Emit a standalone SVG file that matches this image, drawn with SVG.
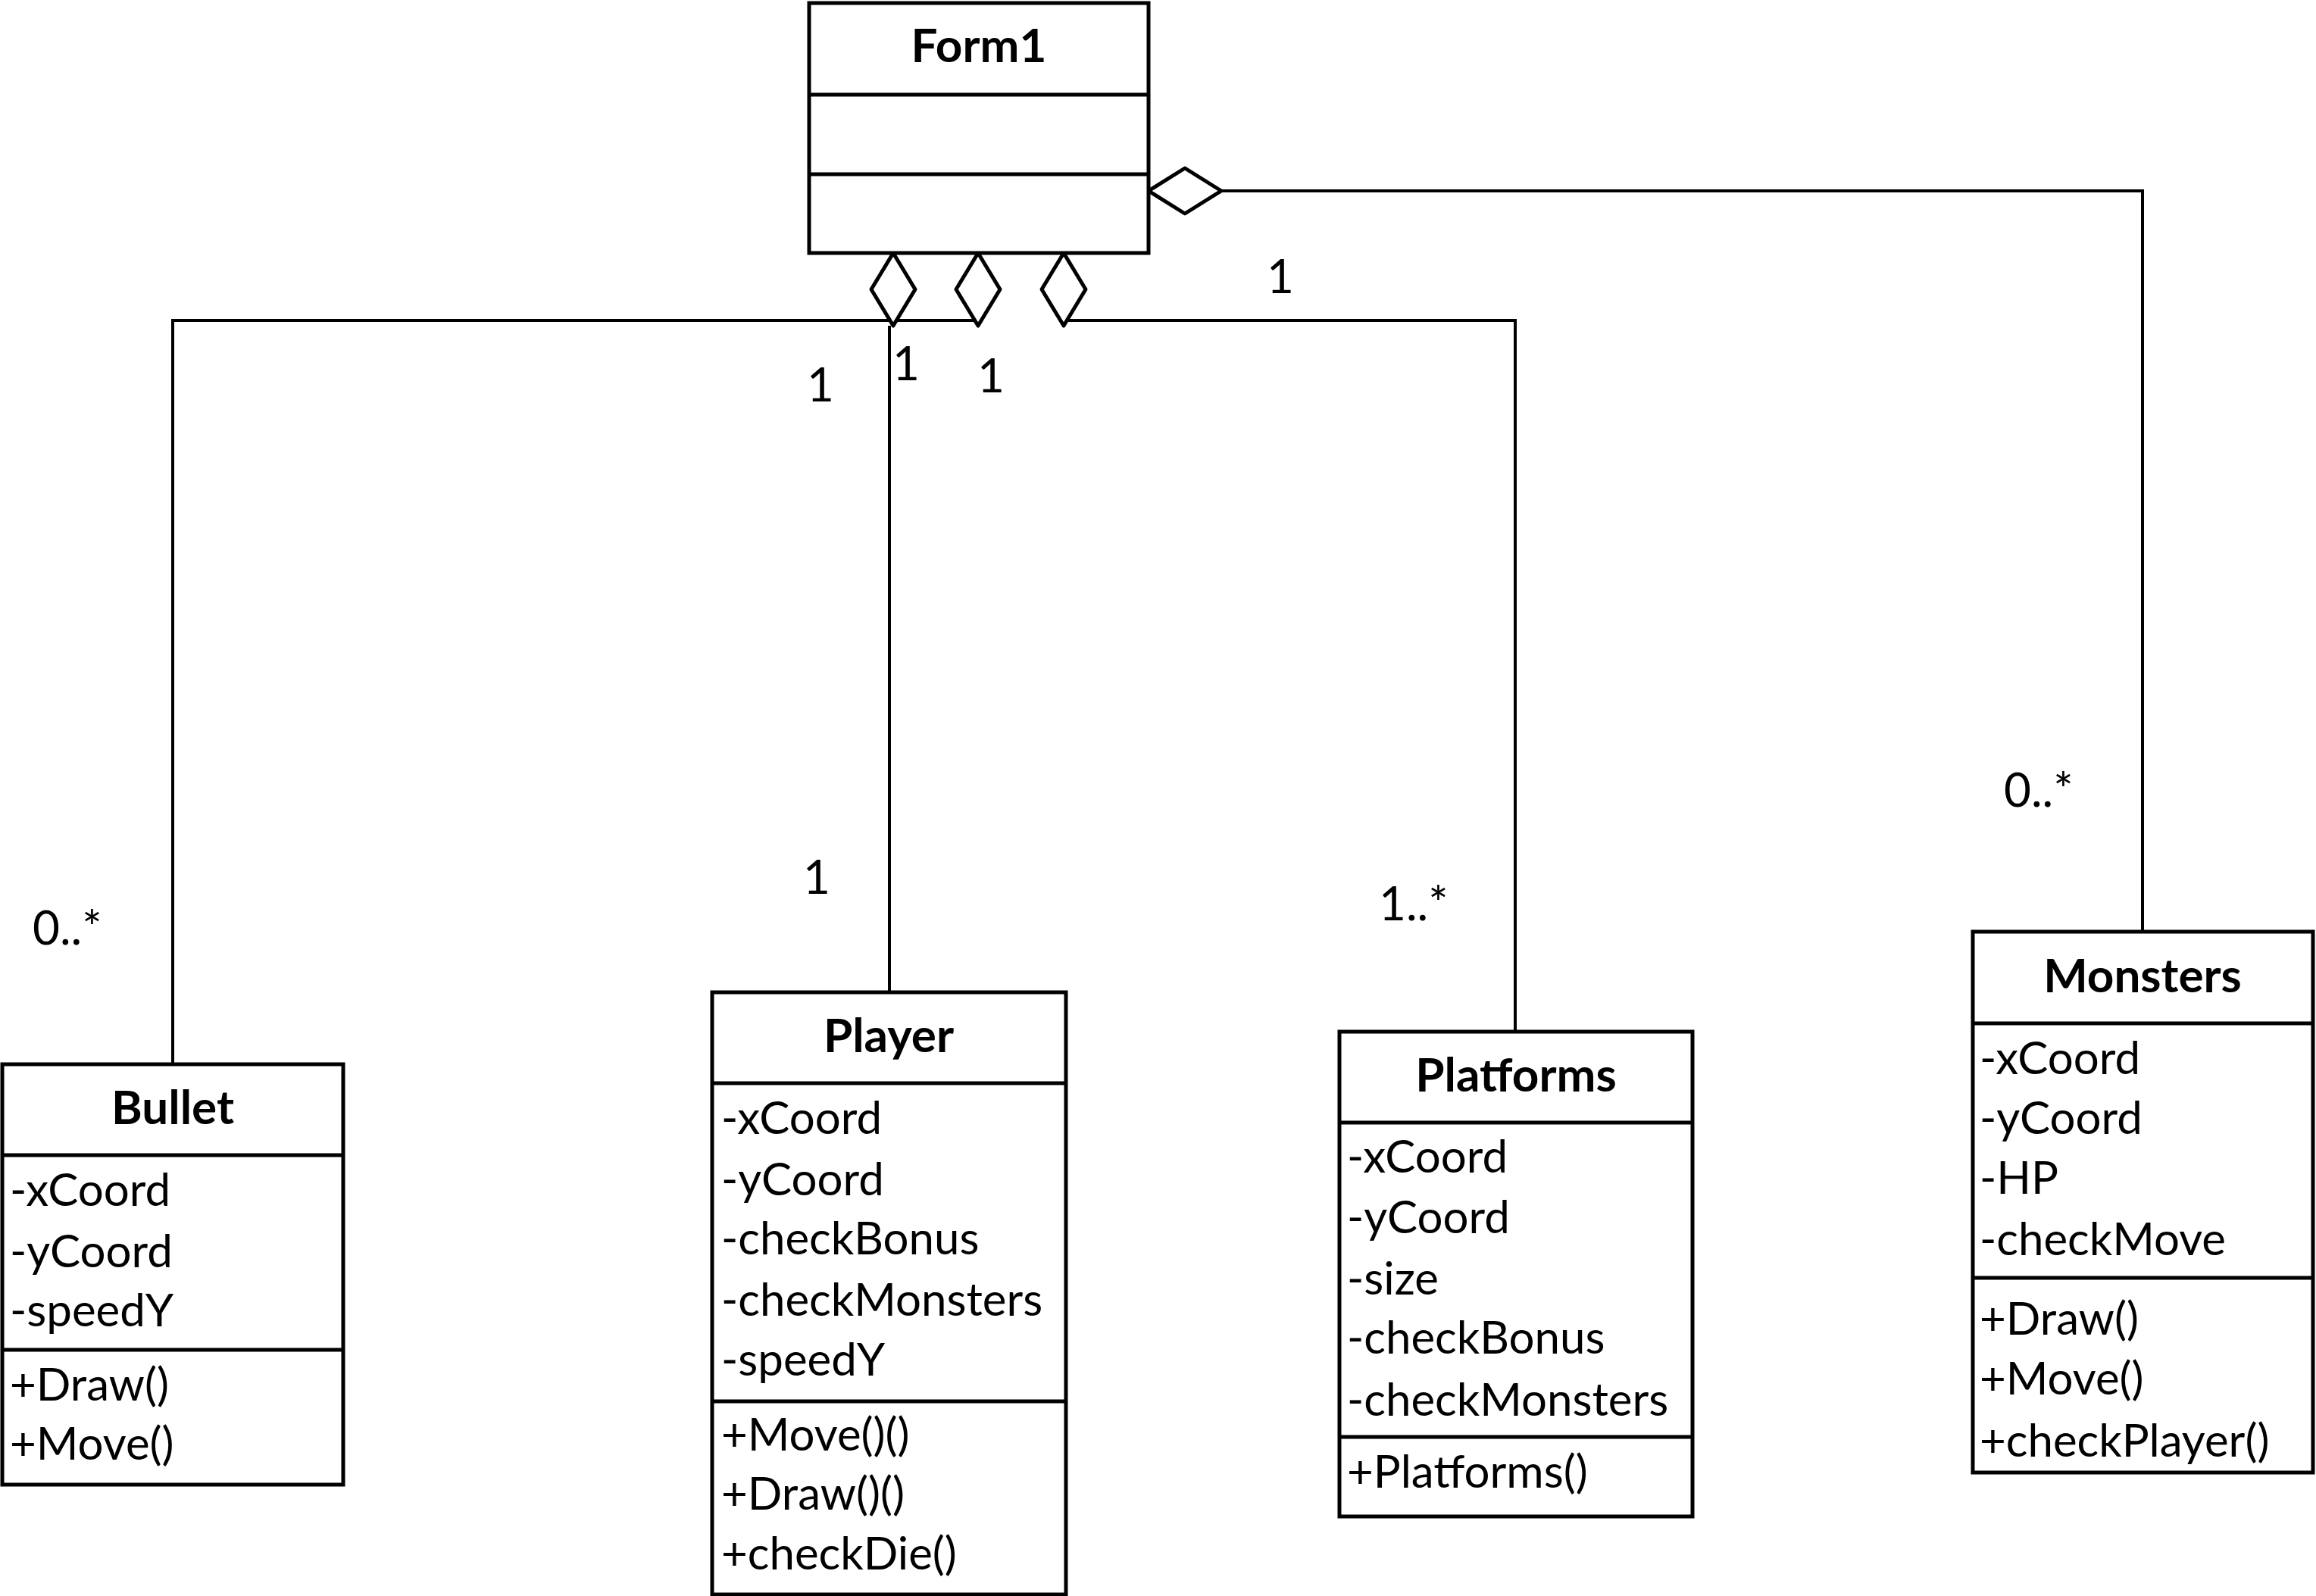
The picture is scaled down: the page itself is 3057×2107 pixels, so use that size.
<svg xmlns="http://www.w3.org/2000/svg" width="3057" height="2107" viewBox="0 0 3057 2107">
  <style>
    .box { fill: #fff; stroke: #000; stroke-width: 5; }
    .div { stroke: #000; stroke-width: 5; }
    .link { fill: none; stroke: #000; stroke-width: 4; }
    .agg { fill: #fff; stroke: #000; stroke-width: 5; stroke-linejoin: round; }
    .title { font-family: Lato, "Liberation Sans", sans-serif; font-weight: bold; font-size: 62px; text-anchor: middle; fill: #000; }
    .member { font-family: Lato, "Liberation Sans", sans-serif; font-size: 60px; fill: #000; }
    .mult { font-family: Lato, "Liberation Sans", sans-serif; font-size: 62px; fill: #000; }
  </style>
  <rect width="3057" height="2107" fill="#fff"/>

  <!-- connectors and aggregation diamonds -->
  <g id="connectors">
    <path class="link" d="M228,1405 V423 H1291"/>
    <path class="link" d="M1174,1310 V430"/>
    <path class="link" d="M2000,1362 V423 H1404"/>
    <path class="link" d="M2828,1230 V252 H1612"/>
    <polygon class="agg" points="1179,334 1208,382 1179,430 1150,382"/>
    <polygon class="agg" points="1291,334 1320,382 1291,430 1262,382"/>
    <polygon class="agg" points="1404,334 1433,382 1404,430 1375,382"/>
    <polygon class="agg" points="1516,252 1564,222 1612,252 1564,282"/>
    <text class="mult" x="1065" y="530">1</text>
    <text class="mult" x="1178" y="502">1</text>
    <text class="mult" x="1290" y="518">1</text>
    <text class="mult" x="1672" y="387">1</text>
    <text class="mult" x="43" y="1247">0..*</text>
    <text class="mult" x="1060" y="1180">1</text>
    <text class="mult" x="1820" y="1215">1..*</text>
    <text class="mult" x="2645" y="1065">0..*</text>
  </g>

  <g id="form1">
    <rect class="box" x="1068" y="4" width="448" height="330"/>
    <line class="div" x1="1068" y1="125" x2="1516" y2="125"/>
    <line class="div" x1="1068" y1="230" x2="1516" y2="230"/>
    <text class="title" x="1292" y="82">Form1</text>
  </g>

  <g id="bullet">
    <rect class="box" x="3" y="1405" width="450" height="555"/>
    <line class="div" x1="3" y1="1525" x2="453" y2="1525"/>
    <line class="div" x1="3" y1="1782" x2="453" y2="1782"/>
    <text class="title" x="228" y="1484">Bullet</text>
    <text class="member" x="13" y="1592">-xCoord</text>
    <text class="member" x="13" y="1673">-yCoord</text>
    <text class="member" x="13" y="1751">-speedY</text>
    <text class="member" x="13" y="1849">+Draw()</text>
    <text class="member" x="13" y="1927">+Move()</text>
  </g>

  <g id="player">
    <rect class="box" x="940" y="1310" width="467" height="795"/>
    <line class="div" x1="940" y1="1430" x2="1407" y2="1430"/>
    <line class="div" x1="940" y1="1850" x2="1407" y2="1850"/>
    <text class="title" x="1173" y="1389">Player</text>
    <text class="member" x="952" y="1497">-xCoord</text>
    <text class="member" x="952" y="1578">-yCoord</text>
    <text class="member" x="952" y="1656">-checkBonus</text>
    <text class="member" x="952" y="1737">-checkMonsters</text>
    <text class="member" x="952" y="1816">-speedY</text>
    <text class="member" x="952" y="1915">+Move()()</text>
    <text class="member" x="952" y="1993">+Draw()()</text>
    <text class="member" x="952" y="2072">+checkDie()</text>
  </g>

  <g id="platforms">
    <rect class="box" x="1768" y="1362" width="466" height="640"/>
    <line class="div" x1="1768" y1="1482" x2="2234" y2="1482"/>
    <line class="div" x1="1768" y1="1897" x2="2234" y2="1897"/>
    <text class="title" x="2001" y="1441">Platforms</text>
    <text class="member" x="1778" y="1548">-xCoord</text>
    <text class="member" x="1778" y="1628">-yCoord</text>
    <text class="member" x="1778" y="1709">-size</text>
    <text class="member" x="1778" y="1787">-checkBonus</text>
    <text class="member" x="1778" y="1869">-checkMonsters</text>
    <text class="member" x="1778" y="1964">+Platforms()</text>
  </g>

  <g id="monsters">
    <rect class="box" x="2604" y="1230" width="449" height="714"/>
    <line class="div" x1="2604" y1="1351" x2="3053" y2="1351"/>
    <line class="div" x1="2604" y1="1687" x2="3053" y2="1687"/>
    <text class="title" x="2828" y="1310">Monsters</text>
    <text class="member" x="2613" y="1418">-xCoord</text>
    <text class="member" x="2613" y="1497">-yCoord</text>
    <text class="member" x="2613" y="1576">-HP</text>
    <text class="member" x="2613" y="1657">-checkMove</text>
    <text class="member" x="2613" y="1762">+Draw()</text>
    <text class="member" x="2613" y="1841">+Move()</text>
    <text class="member" x="2613" y="1923">+checkPlayer()</text>
  </g>
</svg>
